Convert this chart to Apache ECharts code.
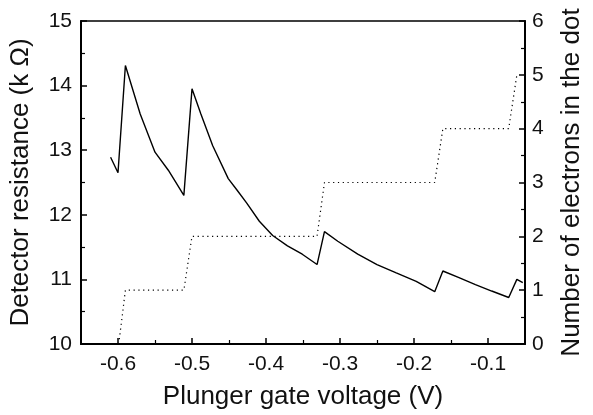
<!DOCTYPE html>
<html>
<head>
<meta charset="utf-8">
<script src="https://cdn.jsdelivr.net/npm/echarts@6/dist/echarts.min.js"></script>
<style>
  html, body { margin: 0; padding: 0; background: #fff; }
  #chart { width: 593px; height: 415px; }
</style>
</head>
<body>
<div id="chart"></div>
<script>
// detector resistance (solid line, left axis)
var resistanceV = [-0.610, -0.600, -0.590, -0.570, -0.550, -0.532, -0.511, -0.500, -0.488, -0.472,
                   -0.451, -0.439, -0.426, -0.409, -0.391, -0.371, -0.351, -0.331, -0.321, -0.303,
                   -0.276, -0.250, -0.224, -0.197, -0.172, -0.161, -0.140, -0.117, -0.095, -0.072,
                   -0.061, -0.053];
var resistanceK = [12.89, 12.65, 14.31, 13.56, 12.97, 12.69, 12.30, 13.95, 13.56, 13.07,
                   12.56, 12.38, 12.18, 11.90, 11.68, 11.52, 11.39, 11.23, 11.74, 11.59,
                   11.39, 11.23, 11.10, 10.97, 10.81, 11.13, 11.03, 10.92, 10.82, 10.72,
                   11.00, 10.95];

// number of electrons (dotted line, right axis)
var electronsV = [-0.599, -0.590, -0.511, -0.500, -0.331, -0.321, -0.172, -0.161, -0.072, -0.061];
var electronsN = [0, 1, 1, 2, 2, 3, 3, 4, 4, 5];

var xMajor = [-0.6, -0.5, -0.4, -0.3, -0.2, -0.1];
var xMinor = [-0.55, -0.45, -0.35, -0.25, -0.15];

var chart = echarts.init(document.getElementById('chart'));

function pairs(xs, ys) {
    return xs.map(function (x, i) { return [x, ys[i]]; });
}

var font = 'Liberation Sans, Arial, Helvetica, sans-serif';

var option = {
    animation: false,
    grid: {
        left: 81, right: 60, top: 21, bottom: 68,
        show: true, borderColor: '#000', borderWidth: 1.5
    },
    xAxis: [{
        type: 'value', min: -0.65, max: -0.05,
        name: 'Plunger gate voltage (V)', nameLocation: 'middle', nameGap: 40,
        nameTextStyle: { fontFamily: font, fontSize: 26, color: '#111' },
        axisLine: { show: true, lineStyle: { color: '#000', width: 2 } },
        axisTick: { show: true, inside: true, length: 6, customValues: xMajor, lineStyle: { color: '#000', width: 1.5 } },
        axisLabel: {
            customValues: xMajor, margin: 10, fontFamily: font, fontSize: 21, color: '#111',
            formatter: function (v) { return String(Math.round(v * 10) / 10); }
        },
        splitLine: { show: false }
    }, {
        type: 'value', min: -0.65, max: -0.05, position: 'bottom',
        axisLine: { show: false },
        axisTick: { show: true, inside: true, length: 4, customValues: xMinor, lineStyle: { color: '#000', width: 1.2 } },
        axisLabel: { show: false },
        splitLine: { show: false }
    }],
    yAxis: [{
        type: 'value', min: 10, max: 15, interval: 1, position: 'left',
        name: 'Detector resistance (k Ω)', nameLocation: 'middle', nameGap: 47, nameRotate: 90,
        nameTextStyle: { fontFamily: font, fontSize: 26, color: '#111' },
        axisLine: { show: true, lineStyle: { color: '#000', width: 2 } },
        axisTick: { show: true, inside: true, length: 6, lineStyle: { color: '#000', width: 1.5 } },
        minorTick: { show: true, splitNumber: 2, length: 4, lineStyle: { color: '#000', width: 1.2 } },
        axisLabel: { margin: 9, fontFamily: font, fontSize: 21, color: '#111' },
        splitLine: { show: false }
    }, {
        type: 'value', min: 0, max: 6, interval: 1, position: 'right',
        name: 'Number of electrons in the dot', nameLocation: 'middle', nameGap: 34, nameRotate: 90,
        nameTextStyle: { fontFamily: font, fontSize: 26, color: '#111' },
        axisLine: { show: true, lineStyle: { color: '#000', width: 2 } },
        axisTick: { show: true, inside: true, length: 6, lineStyle: { color: '#000', width: 1.5 } },
        minorTick: { show: true, splitNumber: 2, length: 4, lineStyle: { color: '#000', width: 1.2 } },
        axisLabel: { margin: 7, fontFamily: font, fontSize: 21, color: '#111' },
        splitLine: { show: false }
    }],
    series: [{
        name: 'resistance', type: 'line', xAxisIndex: 0, yAxisIndex: 0,
        data: pairs(resistanceV, resistanceK),
        showSymbol: false, smooth: false,
        lineStyle: { color: '#000', width: 1.4 }
    }, {
        name: 'electrons', type: 'line', xAxisIndex: 0, yAxisIndex: 1,
        data: pairs(electronsV, electronsN),
        showSymbol: false,
        lineStyle: { color: '#000', width: 1.2, type: [1.2, 3.6] }
    }]
};

chart.setOption(option);
</script>
</body>
</html>
